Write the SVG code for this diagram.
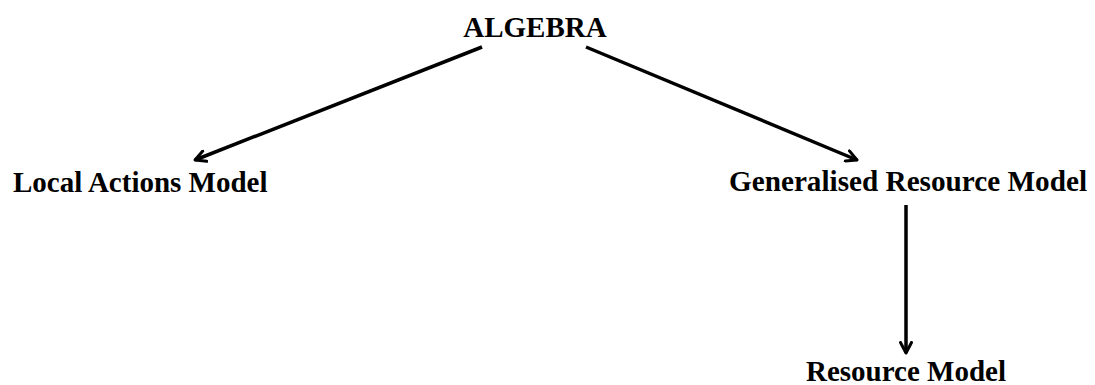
<svg xmlns="http://www.w3.org/2000/svg" width="1095" height="385" viewBox="0 0 1095 385">
<defs>
<style>
.t{font-family:"Liberation Serif","Times New Roman",serif;font-weight:bold;font-size:29px;fill:#000}
.c{stroke:#000;stroke-width:3.5;fill:none}
</style>
<marker id="ah" viewBox="0 0 14 14" refX="12" refY="7" markerWidth="14" markerHeight="14" markerUnits="userSpaceOnUse" orient="auto">
<path d="M1.5,1.5 L12,7 L1.5,12.5" fill="none" stroke="#000" stroke-width="3" stroke-linecap="round" stroke-linejoin="round"/>
</marker>
</defs>
<rect width="1095" height="385" fill="#fff"/>
<g id="connectors">
<line class="c" x1="482" y1="47" x2="195" y2="160" marker-end="url(#ah)"/>
<line class="c" x1="586" y1="47" x2="857" y2="160" marker-end="url(#ah)"/>
<line class="c" x1="906" y1="205" x2="906" y2="353" marker-end="url(#ah)"/>
</g>
<g id="algebra"><text class="t" x="535" y="37" text-anchor="middle">ALGEBRA</text></g>
<g id="local"><text class="t" x="13" y="192">Local Actions Model</text></g>
<g id="generalised"><text class="t" x="908" y="191" text-anchor="middle" textLength="358" lengthAdjust="spacingAndGlyphs">Generalised Resource Model</text></g>
<g id="resource"><text class="t" x="906" y="381" text-anchor="middle">Resource Model</text></g>
</svg>
